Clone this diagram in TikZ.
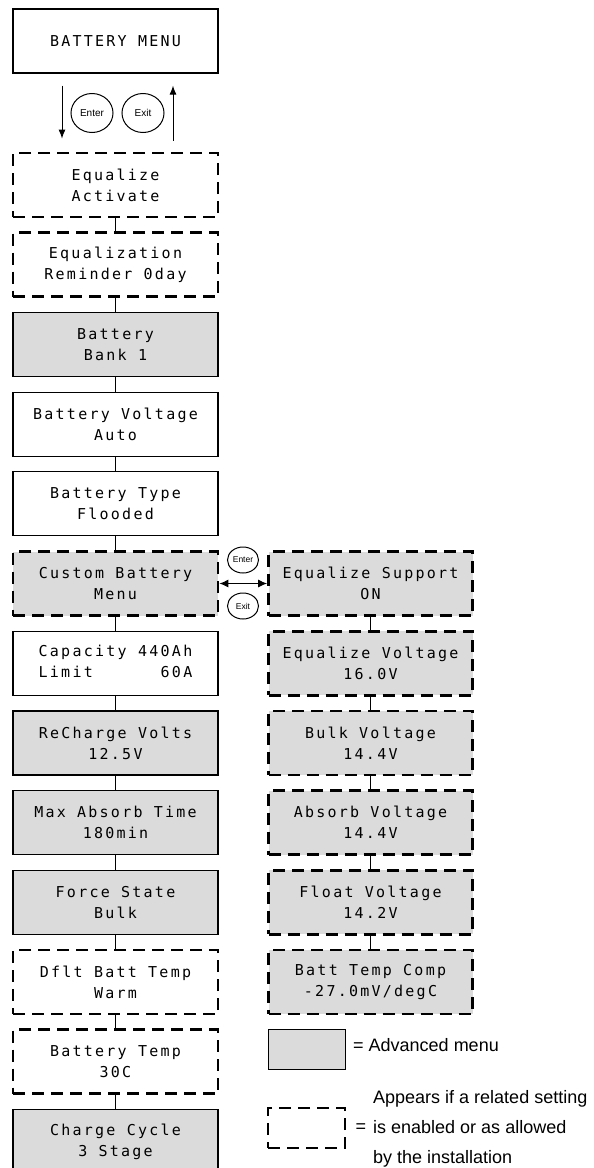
\documentclass[tikz,border=0pt]{standalone}
\usepackage{fontspec}
\setmainfont{Liberation Sans}
\newfontfamily\lcdfont[LetterSpace=15]{DejaVu Sans Mono}
\usepackage{tikz}
\usetikzlibrary{positioning}
\usetikzlibrary{arrows.meta, shapes.geometric}
\definecolor{advgray}{gray}{0.86}

\begin{document}
\begin{tikzpicture}[x=1pt, y=1pt,
  main/.style = {draw, rectangle, line width=1.2pt, minimum width=205pt, minimum height=64pt, inner sep=0pt, align=center, font=\lcdfont\fontsize{15}{21}\selectfont},
  adv/.style = {main, fill=advgray},
  opt/.style = {main, line width=2.8pt, dash pattern=on 12pt off 7pt},
  key/.style = {draw, ellipse, line width=1pt, inner sep=0pt, font=\fontsize{10}{11}\selectfont},
  link/.style = {line width=1pt},
  node distance=79.7pt]
\useasboundingbox (0,0) rectangle (594,-1168);

\node[main] (1) at (115.5,-41) {BATTERY MENU};
\node[opt] (2) at (115.5,-185) {Equalize\\Activate};
\node[opt] (3) [below of=2] {Equalization\\Reminder 0day};
\node[adv] (4) [below of=3] {Battery\\Bank 1};
\node[main] (5) [below of=4] {Battery Voltage\\Auto};
\node[main] (6) [below of=5] {Battery Type\\Flooded};
\node[opt, fill=advgray] (7) [below of=6] {Custom Battery\\Menu};
\node[main] (8) [below of=7] {\begin{tabular}{@{}l@{\hspace{11.5pt}}r@{}}Capacity & 440Ah\\Limit & 60A\end{tabular}};
\node[adv] (9) [below of=8] {ReCharge Volts\\12.5V};
\node[adv] (10) [below of=9] {Max Absorb Time\\180min};
\node[adv] (11) [below of=10] {Force State\\Bulk};
\node[opt] (12) [below of=11] {Dflt Batt Temp\\Warm};
\node[opt] (13) [below of=12] {Battery Temp\\30C};
\node[adv] (14) [below of=13] {Charge Cycle\\3 Stage};

% custom battery submenu
\node[opt, fill=advgray, minimum width=204pt] (15) [right of=7, node distance=255pt] {Equalize Support\\ON};
\node[opt, fill=advgray, minimum width=204pt] (16) [below of=15] {Equalize Voltage\\16.0V};
\node[opt, fill=advgray, minimum width=204pt] (17) [below of=16] {Bulk Voltage\\14.4V};
\node[opt, fill=advgray, minimum width=204pt] (18) [below of=17] {Absorb Voltage\\14.4V};
\node[opt, fill=advgray, minimum width=204pt] (19) [below of=18] {Float Voltage\\14.2V};
\node[opt, fill=advgray, minimum width=204pt] (20) [below of=19] {Batt Temp Comp\\-27.0mV/degC};

\node[key, minimum width=42pt, minimum height=39pt] (enter) at (92,-113) {Enter};
\node[key, minimum width=42pt, minimum height=39pt] (exit) at (143,-113) {Exit};
\node[key, minimum width=31pt, minimum height=26pt, font=\fontsize{8.5}{9}\selectfont] (enter2) at (243,-560) {Enter};
\node[key, minimum width=31pt, minimum height=26pt, font=\fontsize{8.5}{9}\selectfont] (exit2) at (243,-606) {Exit};

\draw[link, -{Latex[length=9pt,width=7pt]}] ([xshift=-53.5pt,yshift=-12pt]1.south) -- ([xshift=-53.5pt,yshift=13pt]2.north);
\draw[link, -{Latex[length=9pt,width=7pt]}] ([xshift=57.5pt,yshift=11pt]2.north) -- ([xshift=57.5pt,yshift=-12pt]1.south);
\draw[link, {Latex[length=9pt,width=8pt]}-{Latex[length=9pt,width=8pt]}] (7.east) -- (15.west);

\path (2) edge [link] (3);
\path (3) edge [link] (4);
\path (4) edge [link] (5);
\path (5) edge [link] (6);
\path (6) edge [link] (7);
\path (7) edge [link] (8);
\path (8) edge [link] (9);
\path (9) edge [link] (10);
\path (10) edge [link] (11);
\path (11) edge [link] (12);
\path (12) edge [link] (13);
\path (13) edge [link] (14);
\path (15) edge [link] (16);
\path (16) edge [link] (17);
\path (17) edge [link] (18);
\path (18) edge [link] (19);
\path (19) edge [link] (20);

% legend
\node[draw, fill=advgray, line width=1pt, minimum width=77pt, minimum height=40pt] (21) at (306.5,-1049) {};
\node[anchor=base west, inner sep=0pt, font=\fontsize{18}{30}\selectfont] (22) at (353,-1051) {= Advanced menu};
\node[draw, line width=2.8pt, dash pattern=on 12pt off 7pt, minimum width=77pt, minimum height=40pt] (23) at (306.5,-1128) {};
\node[inner sep=0pt, font=\fontsize{18}{30}\selectfont] (24) at (361,-1128) {=};
\node[anchor=west, align=left, inner sep=0pt, font=\fontsize{18}{30}\selectfont] (25) at (373,-1128.4) {Appears if a related setting\\is enabled or as allowed\\by the installation};
\end{tikzpicture}
\end{document}
